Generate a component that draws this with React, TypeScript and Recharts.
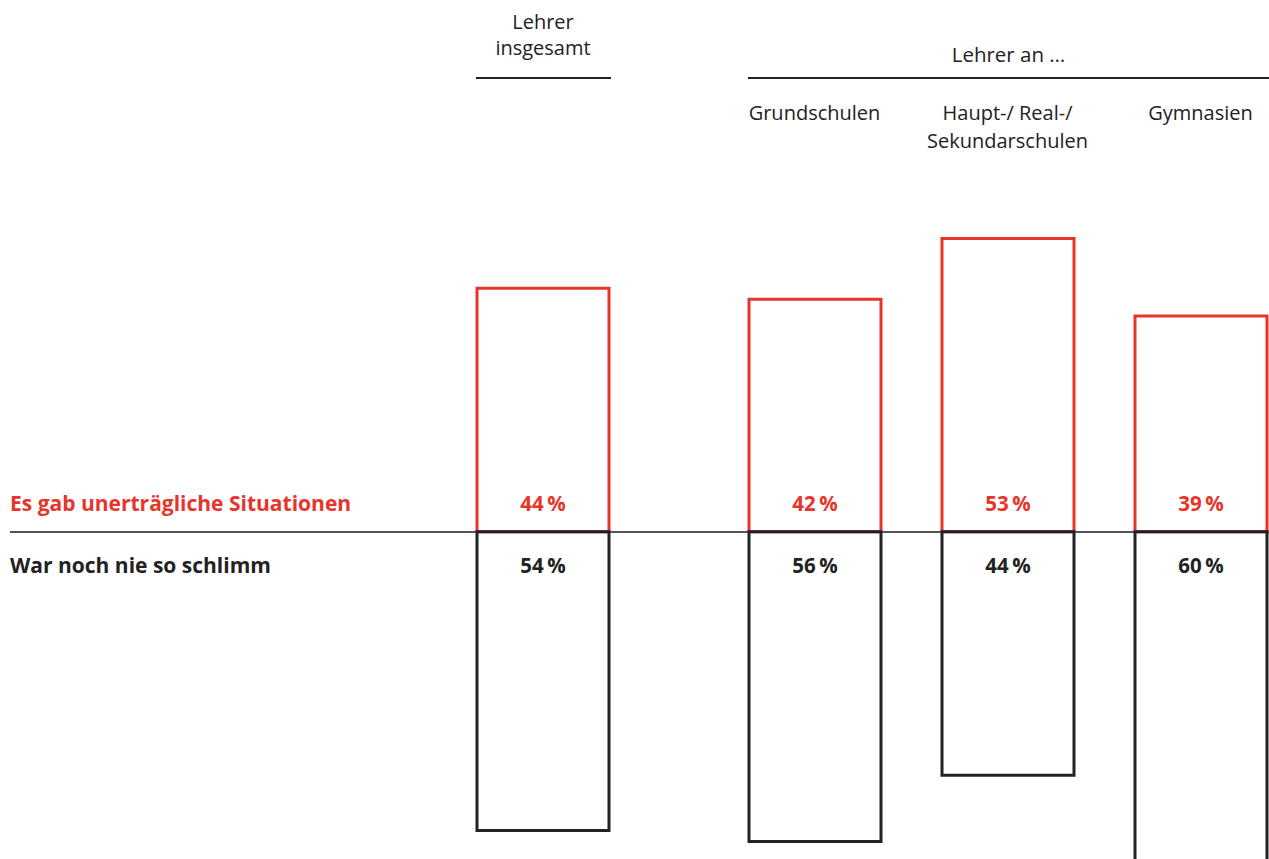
import { BarChart, Bar, XAxis, YAxis, LabelList } from "recharts";

// categories (line breaks as in the picture)
const overallCategories = ["Lehrer\ninsgesamt"];
const schoolCategories = ["Grundschulen", "Haupt-/ Real-/\nSekundarschulen", "Gymnasien"];
const groupTitle = "Lehrer an …";

// series names
const seriesNames = ["Es gab unerträgliche Situationen", "War noch nie so schlimm"];

// values in %
const overallUnbearable = [44];
const overallNeverWorse = [54];
const schoolUnbearable = [42, 53, 39];
const schoolNeverWorse = [56, 44, 60];

const RED = "#e8352b";
const DARK = "#222222";
const FONT = "'Open Sans', 'Noto Sans', sans-serif";

const toRows = (cats: string[], up: number[], down: number[]) =>
  cats.map((name, i) => ({ name, up: up[i], down: -down[i] }));

const overallRows = toRows(overallCategories, overallUnbearable, overallNeverWorse);
const schoolRows = toRows(schoolCategories, schoolUnbearable, schoolNeverWorse);

const makeTick = (firstOffset: number, lineGap: number) => (props: any) => {
  const { x, y, payload } = props;
  const lines = String(payload.value).split("\n");
  return (
    <g>
      {lines.map((line, i) => (
        <text
          key={i}
          x={x}
          y={y + firstOffset + i * lineGap}
          textAnchor="middle"
          fontFamily={FONT}
          fontSize={20}
          fill={DARK}
        >
          {line}
        </text>
      ))}
    </g>
  );
};

const makeLabel = (color: string, above: boolean) => (props: any) => {
  const { x, y, width, height, value } = props;
  const top = Math.min(y, y + height);
  const bottom = Math.max(y, y + height);
  const ty = above ? bottom - 21 : top + 41;
  return (
    <text
      x={x + width / 2}
      y={ty}
      textAnchor="middle"
      fontFamily={FONT}
      fontWeight={700}
      fontSize={20.5}
      fill={color}
    >
      {`${Math.abs(value)}\u2009%`}
    </text>
  );
};

function Panel({ rows, left, width, tickOffset, lineGap }: any) {
  return (
    <div style={{ position: "absolute", left, top: 0 }}>
      <BarChart
        width={width}
        height={919}
        data={rows}
        stackOffset="sign"
        margin={{ top: 0, right: 0, bottom: 0, left: 0 }}
      >
        <XAxis
          dataKey="name"
          orientation="top"
          height={161}
          axisLine={false}
          tickLine={false}
          tickSize={0}
          tickMargin={0}
          interval={0}
          tick={makeTick(tickOffset, lineGap)}
        />
        <YAxis hide domain={[-70, 67]} allowDataOverflow />
        <Bar
          dataKey="up"
          stackId="s"
          barSize={132}
          fill="none"
          stroke={RED}
          strokeWidth={3}
          isAnimationActive={false}
        >
          <LabelList dataKey="up" content={makeLabel(RED, true)} />
        </Bar>
        <Bar
          dataKey="down"
          stackId="s"
          barSize={132}
          fill="none"
          stroke={DARK}
          strokeWidth={3}
          isAnimationActive={false}
        >
          <LabelList dataKey="down" content={makeLabel(DARK, false)} />
        </Bar>
      </BarChart>
    </div>
  );
}

export default function App() {
  return (
    <div
      style={{
        position: "relative",
        width: 1269,
        height: 859,
        overflow: "hidden",
        fontFamily: FONT,
        background: "#fff",
      }}
    >
      <style>{"body{margin:0;overflow:hidden}"}</style>
      <div
        style={{
          position: "absolute",
          left: 10,
          top: 531,
          width: 1259,
          height: 1.5,
          background: "#555",
        }}
      />
      <Panel rows={overallRows} left={445.5} width={194} tickOffset={-132.5} lineGap={26} />
      <Panel rows={schoolRows} left={718} width={579} tickOffset={-41.5} lineGap={28} />
      <div
        style={{
          position: "absolute",
          left: 476,
          top: 77,
          width: 135,
          height: 1.5,
          background: DARK,
        }}
      />
      <div
        style={{
          position: "absolute",
          left: 748,
          top: 77,
          width: 521,
          height: 1.5,
          background: DARK,
        }}
      />
      <div
        style={{
          position: "absolute",
          left: 748,
          top: 42,
          width: 521,
          textAlign: "center",
          fontSize: 20.5,
          lineHeight: "24px",
          color: DARK,
        }}
      >
        {groupTitle}
      </div>
      <div
        style={{
          position: "absolute",
          left: 10,
          top: 491,
          fontSize: 21,
          lineHeight: "24px",
          fontWeight: 700,
          color: RED,
        }}
      >
        {seriesNames[0]}
      </div>
      <div
        style={{
          position: "absolute",
          left: 10,
          top: 553,
          fontSize: 21,
          lineHeight: "24px",
          fontWeight: 700,
          color: DARK,
        }}
      >
        {seriesNames[1]}
      </div>
    </div>
  );
}
